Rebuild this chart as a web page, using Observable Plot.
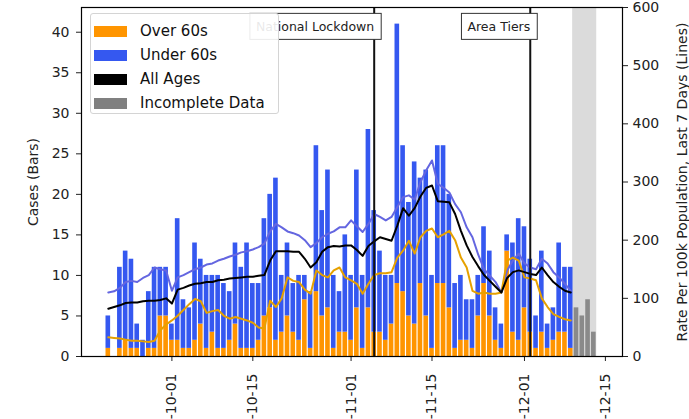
<!DOCTYPE html>
<html><head><meta charset="utf-8">
<script src="https://cdn.jsdelivr.net/npm/d3@7"></script>
<script src="https://cdn.jsdelivr.net/npm/@observablehq/plot@0.6"></script>
<style>
body{margin:0;background:#fff;font-family:"DejaVu Sans",sans-serif;}
#wrap{position:relative;width:689px;height:419px;overflow:hidden;}
#wrap svg{position:absolute;left:0;top:0;z-index:1;}
#legend{position:absolute;z-index:5;left:90px;top:13px;width:189px;height:101px;background:rgba(255,255,255,0.9);border:1px solid #d4d4d4;border-radius:3px;box-sizing:border-box;font-size:15px;color:#111;}
.row{position:absolute;left:3px;height:14px;display:flex;align-items:center;white-space:nowrap;}
.sw{width:33px;height:11px;margin-right:13px;}
</style></head><body><div id="wrap"></div>
<script>
// ---- data ----
const startDate = "2020-09-20";           // first day of the series
const total = [5,0,11,13,12,4,2,8,11,11,11,
  4,17,7,6,14,12,10,10,10,9,8,14,11,14,9,9,17,20,22,10,14,9,10,10,8,26,18,23,10,8,15,
  10,23,10,28,18,13,10,10,41,26,19,24,22,23,10,26,26,20,9,10,7,7,10,16,13,6,4,15,14,17,
  16,12,5,13,4,6,14,11,11];
const over60 = [1,0,1,2,1,1,0,1,1,5,5,
  2,2,1,1,2,4,1,3,1,1,2,4,1,1,1,2,5,6,2,3,5,3,2,7,1,8,5,6,1,3,3,
  2,6,1,6,3,3,2,4,9,8,5,4,9,5,1,9,9,6,1,2,2,1,5,9,5,2,1,13,3,2,
  6,3,1,3,1,2,3,3,1];
const incompleteStart = "2020-12-10";
const incompleteTotal = [6,5,7,3];
const rateAll = [82,85,88,92,93,93,95,96,96,97,100,
  91,115,118,122,125,126,128,128,131,132,134,135,136,137,137,139,140,165,181,181,181,180,180,168,153,162,180,188,190,189,191,
  191,183,173,190,198,205,202,199,225,255,242,255,275,290,294,267,266,265,245,216,191,171,155,140,130,120,110,135,145,148,
  145,142,140,153,140,128,120,113,110];
const rateUnder60 = [110,112,118,128,130,128,135,140,153,150,148,
  113,136,140,145,150,153,158,160,165,168,172,175,179,181,184,188,194,215,228,222,215,212,208,200,188,195,205,211,215,222,222,
  234,224,214,228,245,240,234,240,257,274,277,270,300,320,337,297,290,282,262,248,222,205,175,150,139,128,110,148,165,177,
  160,153,150,168,160,145,136,125,113];
const rateOver60 = [33,32,31,29,27,27,26,25,27,45,55,
  62,70,80,90,99,95,75,78,80,70,65,68,65,62,58,50,48,96,85,100,136,130,128,115,108,148,140,136,148,153,136,
  131,125,108,125,140,143,143,145,170,182,199,177,205,216,220,205,210,216,200,170,153,113,108,110,108,108,110,165,170,165,
  136,134,131,100,85,73,68,64,62];
const events = [{date:"2020-11-05", label:"National Lockdown"},{date:"2020-12-02", label:"Area Tiers"}];
const incompleteSpan = [["2020-12-09T08:00Z","2020-12-13T12:00Z"]];
const xTicks = ["2020-10-01","2020-10-15","2020-11-01","2020-11-15","2020-12-01","2020-12-15"];
const xDomain = ["2020-09-15T08:40Z","2020-12-17T23:00Z"];
const yTicksLeft = [0,5,10,15,20,25,30,35,40];
const yTicksRight = [0,100,200,300,400,500,600];
const yMaxLeft = 43.05, yMaxRight = 600;
const leftLabel = "Cases (Bars)";
const rightLabel = "Rate Per 100k Population, Last 7 Days (Lines)";
const legendItems = [["Over 60s","#ff9500"],["Under 60s","#3558f0"],["All Ages","#000000"],["Incomplete Data","#808080"]];

// ---- build ----
const DAY = 864e5;
const k = yMaxLeft / yMaxRight;
const t0 = Date.parse(startDate);
const rows = total.map((t,i)=>({date:new Date(t0+i*DAY), total:t, over:over60[i], all:rateAll[i], under:rateUnder60[i], o:rateOver60[i]}));
const inc = incompleteTotal.map((t,i)=>({date:new Date(Date.parse(incompleteStart)+i*DAY), total:t}));
const x1 = d=>new Date(+d.date-0.4*DAY), x2 = d=>new Date(+d.date+0.4*DAY);
const ORANGE="#ff9500", BLUE="#3558f0";

const plot = Plot.plot({
  width:689, height:419,
  marginLeft:81, marginRight:67, marginTop:7, marginBottom:63,
  style:{fontFamily:"DejaVu Sans, sans-serif", fontSize:"14px", color:"#222"},
  x:{type:"utc", domain:xDomain.map(d=>new Date(d))},
  y:{domain:[0,yMaxLeft]},
  marks:[
    Plot.rect(incompleteSpan,{x1:d=>new Date(d[0]), x2:d=>new Date(d[1]), fill:"#cfcfcf", fillOpacity:0.75}),
    Plot.rect(rows,{x1,x2,y1:0,y2:"over",fill:ORANGE}),
    Plot.rect(rows,{x1,x2,y1:"over",y2:"total",fill:BLUE}),
    Plot.rect(inc,{x1,x2,y1:0,y2:"total",fill:"#8a8a8a"}),
    Plot.line(rows,{x:"date",y:d=>d.under*k,stroke:"#6466e0",strokeWidth:2}),
    Plot.line(rows,{x:"date",y:d=>d.o*k,stroke:"#e6a100",strokeWidth:2}),
    Plot.line(rows,{x:"date",y:d=>d.all*k,stroke:"#000",strokeWidth:2}),
    Plot.ruleX(events,{x:d=>new Date(d.date),stroke:"#111",strokeWidth:2}),
    Plot.text(events,{x:d=>new Date(d.date),text:"label",frameAnchor:"top",dy:15,textAnchor:"end",fontSize:12.5,fill:"#222"}),
    Plot.axisY({ticks:yTicksLeft,tickSize:5,tickPadding:7,label:null}),
    Plot.axisY({anchor:"right",ticks:yTicksRight.map(v=>v*k),tickFormat:d=>String(Math.round(d/k)),tickSize:5,tickPadding:5,label:null}),
    Plot.axisX({ticks:xTicks.map(d=>new Date(d)),tickFormat:d3.utcFormat("%Y-%m-%d"),tickRotate:-90,tickSize:5,tickPadding:12,label:null}),
    Plot.text([leftLabel],{text:d=>d,frameAnchor:"left",textAnchor:"middle",rotate:-90,dx:-48,fontSize:14,fill:"#222"}),
    Plot.text([rightLabel],{text:d=>d,frameAnchor:"right",textAnchor:"middle",rotate:-90,dx:60,fontSize:14,fill:"#222"}),
    Plot.frame({stroke:"#000",strokeWidth:1.2})
  ]
});
const wrap = document.getElementById("wrap");
wrap.appendChild(plot);

// boxes behind event labels
const labels = new Set(events.map(e=>e.label));
plot.querySelectorAll("text").forEach(t=>{
  if (!labels.has(t.textContent)) return;
  const b = t.getBBox();
  const r = document.createElementNS("http://www.w3.org/2000/svg","rect");
  r.setAttribute("x", b.x-6); r.setAttribute("y", b.y-6);
  r.setAttribute("width", b.width+13); r.setAttribute("height", b.height+11);
  r.setAttribute("fill","#fff"); r.setAttribute("stroke","#333"); r.setAttribute("stroke-width","1");
  const tr = t.getAttribute("transform");
  if (tr) r.setAttribute("transform", tr);
  t.parentNode.insertBefore(r, t);
});

// legend
const lg = document.createElement("div"); lg.id="legend";
legendItems.forEach(([name,color],i)=>{
  const row=document.createElement("div"); row.className="row"; row.style.top=(10+i*24)+"px";
  const sw=document.createElement("div"); sw.className="sw"; sw.style.background=color;
  const tx=document.createElement("span"); tx.textContent=name;
  row.appendChild(sw); row.appendChild(tx); lg.appendChild(row);
});
wrap.appendChild(lg);
</script></body></html>
